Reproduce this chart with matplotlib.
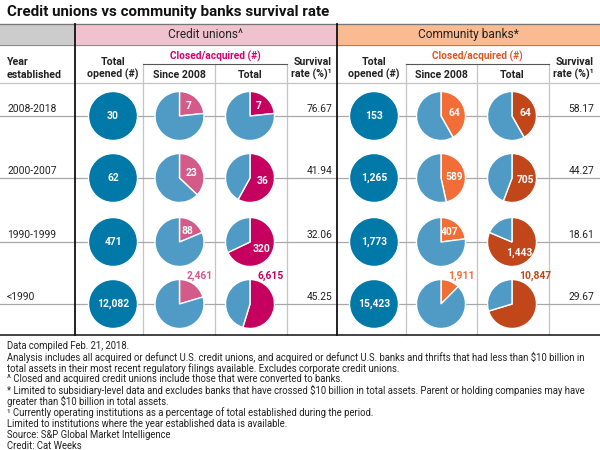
import numpy as np
import matplotlib
matplotlib.use('Agg')
import matplotlib.pyplot as plt
from matplotlib.patches import Rectangle

plt.rcParams['font.family'] = ['Roboto', 'DejaVu Sans']

# data
years = ['2008-2018', '2000-2007', '1990-1999', '<1990']
cu_opened = [30, 62, 471, 12082]
cu_since2008 = [7, 23, 88, 2461]
cu_total = [7, 36, 320, 6615]
cu_survival = [76.67, 41.94, 32.06, 45.25]
bank_opened = [153, 1265, 1773, 15423]
bank_since2008 = [64, 589, 407, 1911]
bank_total = [64, 705, 1443, 10847]
bank_survival = [58.17, 44.27, 18.61, 29.67]

notes = [
    'Data compiled Feb. 21, 2018.',
    'Analysis includes all acquired or defunct U.S. credit unions, and acquired or defunct U.S. banks and thrifts that had less than $10 billion in',
    'total assets in their most recent regulatory filings available. Excludes corporate credit unions.',
    '^ Closed and acquired credit unions include those that were converted to banks.',
    '* Limited to subsidiary-level data and excludes banks that have crossed $10 billion in total assets. Parent or holding companies may have',
    'greater than $10 billion in total assets.',
    '\u00b9 Currently operating institutions as a percentage of total established during the period.',
    'Limited to institutions where the year established data is available.',
    'Source: S&P Global Market Intelligence',
    'Credit: Cat Weeks',
]

# colours
DARK_BLUE = '#0078a8'
LIGHT_BLUE = '#4f9bc5'
CU_SINCE = '#d45a8a'
CU_TOTAL = '#c6005f'
BK_SINCE = '#f26e36'
BK_TOTAL = '#c1461a'
GRID = '#c4c4c4'

# layout (pixels, y down)
row_y = [116, 178, 242, 304]
R = 24.5
cu_x = [113, 179.5, 250]
bk_x = [374, 441, 512]

fig = plt.figure(figsize=(6, 4.5), dpi=100)
ax = fig.add_axes([0, 0, 1, 1])

# header bands
ax.add_patch(Rectangle((0, 24), 75, 21, color='#cccccc', zorder=0))
ax.add_patch(Rectangle((75, 24), 262, 21, color='#f0c2cf', zorder=0))
ax.add_patch(Rectangle((337, 24), 263, 21, color='#fabb93', zorder=0))
ax.plot([0, 600], [24, 24], color='#777777', lw=0.9, zorder=1)
ax.plot([0, 600], [45, 45], color='#888888', lw=0.7, zorder=1)
ax.plot([0, 600], [83, 83], color=GRID, lw=0.9, zorder=0.5)
ax.plot([0, 600], [335, 335], color='#222222', lw=1.2, zorder=3)

# vertical lines
for x in [75, 337]:
    ax.plot([x, x], [24, 335], color='#111111', lw=1.3, zorder=3)
for x0, x1 in [(143, 287), (406, 549)]:
    ax.plot([x0, x1], [64, 64], color='#555555', lw=0.8, zorder=1)
for x in [143, 215, 287, 406, 477, 549]:
    ax.plot([x, x], [64, 335], color=GRID, lw=0.9, zorder=0.5)

# row lines
for y in row_y:
    ax.plot([0, 600], [y, y], color='#a8a8a8', lw=0.9, zorder=0.5)

# title and headers
ax.text(7, 12, 'Credit unions vs community banks survival rate', fontsize=10.9,
        fontweight='bold', va='center', ha='left', color='#111111')
ax.text(206, 34.5, 'Credit unions^', fontsize=8.6, ha='center', va='center', color='#222222')
ax.text(468.5, 34.5, 'Community banks*', fontsize=8.6, ha='center', va='center', color='#222222')

hdr = dict(fontsize=7.6, fontweight='bold', va='center', color='#222222')
ax.text(7, 62, 'Year', ha='left', **hdr)
ax.text(7, 74.5, 'established', ha='left', **hdr)
for tx, sx, cx, ccol, rx in [(cu_x[0], cu_x[1], cu_x[2], '#d6006e', 332),
                             (bk_x[0], bk_x[1], bk_x[2], '#df5626', 594)]:
    ax.text(tx, 62, 'Total', ha='center', **hdr)
    ax.text(tx, 74.5, 'opened (#)', ha='center', **hdr)
    ax.text((sx + cx) / 2 + 0.5, 56, 'Closed/acquired (#)', ha='center', va='center',
            fontsize=7.3, fontweight='bold', color=ccol)
    ax.text(sx, 74.5, 'Since 2008', ha='center', **hdr)
    ax.text(cx, 74.5, 'Total', ha='center', **hdr)
    ax.text(rx, 62, 'Survival', ha='right', **hdr)
    ax.text(rx, 74.5, 'rate (%)\u00b9', ha='right', **hdr)


def closed_pie(cx, cy, closed, opened, col, outside):
    ax.pie([closed, opened - closed], colors=[col, LIGHT_BLUE], center=(cx, cy), radius=R,
           startangle=270, counterclock=True, frame=True,
           wedgeprops=dict(edgecolor='white', linewidth=1.0))
    lab = f'{closed:,}'
    if outside:
        ax.text(cx + 7, cy - R - 3.5, lab, ha='left', va='center', fontsize=7.4,
                fontweight='bold', color=col, zorder=4)
    else:
        mid = np.pi * closed / opened
        ax.text(cx + 0.55 * R * np.sin(mid), cy - 0.55 * R * np.cos(mid), lab,
                ha='center', va='center', fontsize=7.4, fontweight='bold', color='white', zorder=4)


for i, y in enumerate(row_y):
    outside = i == len(row_y) - 1
    ax.text(7, y - 7, years[i], ha='left', va='center', fontsize=7.4, color='#222222')
    for xs, opened, since, total, surv, csin, ctot, rx in [
            (cu_x, cu_opened, cu_since2008, cu_total, cu_survival, CU_SINCE, CU_TOTAL, 332),
            (bk_x, bank_opened, bank_since2008, bank_total, bank_survival, BK_SINCE, BK_TOTAL, 594)]:
        ax.pie([opened[i]], colors=[DARK_BLUE], center=(xs[0], y), radius=R, frame=True,
               wedgeprops=dict(edgecolor='white', linewidth=1.0))
        ax.text(xs[0], y, f'{opened[i]:,}', ha='center', va='center', fontsize=7.4,
                fontweight='bold', color='white', zorder=4)
        closed_pie(xs[1], y, since[i], opened[i], csin, outside)
        closed_pie(xs[2], y, total[i], opened[i], ctot, outside)
        ax.text(rx, y - 7, f'{surv[i]:.2f}', ha='right', va='center', fontsize=7.4, color='#222222')

# footnotes
for k, line in enumerate(notes):
    ax.text(7, 346 + 11.1 * k, line, ha='left', va='center', fontsize=6.85, color='#222222')

ax.set_xlim(0, 600)
ax.set_ylim(450, 0)
ax.set_aspect('auto')
ax.axis('off')

fig.savefig('out.png', dpi=100)
